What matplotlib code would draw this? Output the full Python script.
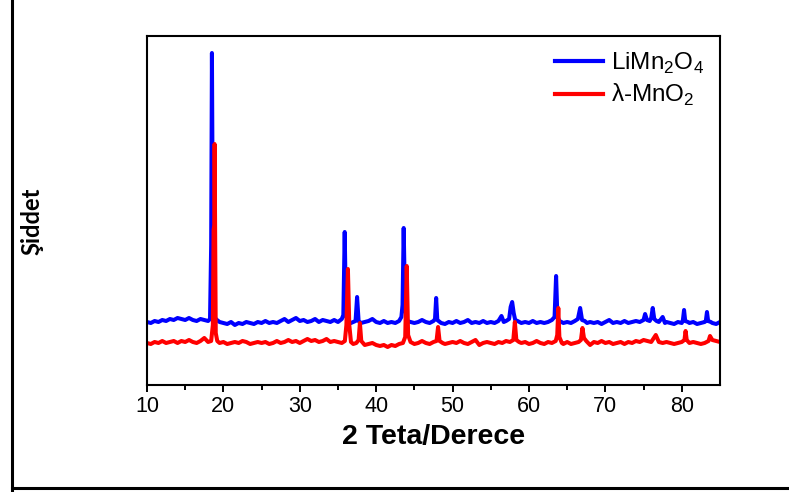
import numpy as np
import matplotlib
matplotlib.use("Agg")
from matplotlib import pyplot as plt
from matplotlib.lines import Line2D

# LiMn2O4 (blue) - 2 teta / siddet (okunan degerler)
blue_2theta = [10.0, 10.5, 11.0, 11.5, 12.0, 12.5, 13.0, 13.5, 14.0, 14.5, 15.0, 15.5, 16.0, 16.5, 17.0, 17.5,
               18.0, 18.25, 18.4, 18.5, 18.62, 18.75, 19.0, 19.5, 20.0, 20.5, 21.0, 21.5, 22.0, 22.5, 23.0, 23.5,
               24.0, 24.5, 25.0, 25.5, 26.0, 26.5, 27.0, 27.5, 28.0, 28.5, 29.0, 29.5, 30.0, 30.5, 31.0, 31.5,
               32.0, 32.5, 33.0, 33.5, 34.0, 34.5, 35.0, 35.5, 35.7, 35.88, 36.05, 36.3, 36.7, 37.0, 37.3, 37.5,
               37.7, 38.0, 38.5, 39.0, 39.5, 40.0, 40.5, 41.0, 41.5, 42.0, 42.5, 43.0, 43.3, 43.45, 43.6, 43.78,
               44.0, 44.5, 45.0, 45.5, 46.0, 46.5, 47.0, 47.5, 47.7, 47.85, 48.0, 48.5, 49.0, 49.5, 50.0, 50.5,
               51.0, 51.5, 52.0, 52.5, 53.0, 53.5, 54.0, 54.5, 55.0, 55.5, 56.0, 56.4, 56.7, 57.0, 57.4, 57.6,
               57.8, 58.0, 58.2, 58.5, 59.0, 59.5, 60.0, 60.5, 61.0, 61.5, 62.0, 62.5, 63.0, 63.35, 63.55, 63.72,
               64.0, 64.5, 65.0, 65.5, 66.0, 66.4, 66.7, 66.95, 67.3, 67.6, 68.0, 68.5, 69.0, 69.5, 70.0, 70.5,
               71.0, 71.5, 72.0, 72.5, 73.0, 73.5, 74.0, 74.5, 75.0, 75.2, 75.45, 75.8, 76.0, 76.2, 76.4, 76.7,
               77.0, 77.5, 77.8, 78.0, 78.5, 79.0, 79.5, 80.0, 80.15, 80.3, 80.45, 80.8, 81.0, 81.5, 82.0, 82.5,
               83.0, 83.15, 83.3, 83.45, 83.8, 84.0, 84.5, 85.0]
blue_int = [63, 62, 64, 63, 65, 64, 66, 65, 67, 66, 65, 67, 65, 64, 66, 65,
            64, 66, 140, 332, 145, 70, 66, 63, 62, 61, 63, 60, 62, 61, 63, 62,
            61, 63, 62, 64, 62, 63, 62, 64, 66, 63, 65, 67, 64, 65, 63, 64,
            66, 63, 65, 64, 63, 65, 63, 66, 70, 153, 70, 63, 62, 63, 64, 88,
            64, 62, 63, 64, 66, 63, 62, 64, 62, 63, 62, 64, 68, 80, 157, 80,
            64, 63, 62, 63, 65, 63, 62, 64, 66, 87, 65, 62, 61, 63, 62, 64,
            62, 63, 65, 62, 63, 62, 64, 62, 63, 62, 64, 69, 63, 64, 66, 78,
            83, 72, 65, 64, 62, 63, 62, 64, 62, 63, 62, 63, 65, 68, 109, 68,
            64, 62, 63, 62, 64, 66, 77, 65, 64, 62, 63, 62, 63, 61, 63, 65,
            62, 63, 62, 64, 62, 63, 64, 63, 65, 71, 65, 64, 67, 77, 66, 64,
            63, 68, 62, 63, 62, 61, 63, 62, 65, 75, 64, 63, 62, 63, 61, 62,
            63, 64, 73, 64, 63, 62, 61, 63]

# lambda-MnO2 (red)
red_2theta = [10.0, 10.5, 11.0, 11.5, 12.0, 12.5, 13.0, 13.5, 14.0, 14.5, 15.0, 15.5, 16.0, 16.5, 17.0, 17.5,
              18.0, 18.4, 18.62, 18.72, 18.8, 18.85, 18.92, 19.0, 19.2, 19.5, 20.0, 20.5, 21.0, 21.5, 22.0, 22.5,
              23.0, 23.5, 24.0, 24.5, 25.0, 25.5, 26.0, 26.5, 27.0, 27.5, 28.0, 28.5, 29.0, 29.5, 30.0, 30.5,
              31.0, 31.5, 32.0, 32.5, 33.0, 33.5, 34.0, 34.5, 35.0, 35.5, 35.9, 36.1, 36.3, 36.48, 36.7, 37.0,
              37.4, 37.7, 37.87, 38.05, 38.5, 39.0, 39.5, 40.0, 40.5, 41.0, 41.5, 42.0, 42.5, 43.0, 43.5, 43.8,
              44.0, 44.18, 44.5, 45.0, 45.5, 46.0, 46.5, 47.0, 47.5, 47.9, 48.1, 48.3, 48.7, 49.0, 49.5, 50.0,
              50.5, 51.0, 51.5, 52.0, 52.5, 53.0, 53.5, 54.0, 54.5, 55.0, 55.5, 56.0, 56.5, 57.0, 57.5, 57.95,
              58.15, 58.35, 58.7, 59.0, 59.5, 60.0, 60.5, 61.0, 61.5, 62.0, 62.5, 63.0, 63.5, 63.7, 63.84, 63.98,
              64.3, 64.5, 65.0, 65.5, 66.0, 66.5, 66.8, 67.0, 67.2, 67.5, 68.0, 68.5, 69.0, 69.5, 70.0, 70.5,
              71.0, 71.5, 72.0, 72.5, 73.0, 73.5, 74.0, 74.5, 75.0, 75.5, 76.0, 76.6, 77.0, 77.5, 78.0, 78.5,
              79.0, 79.5, 80.0, 80.35, 80.5, 80.65, 81.0, 81.5, 82.0, 82.5, 83.0, 83.5, 83.7, 84.0, 84.5, 85.0]
red_int = [42, 41, 43, 42, 44, 42, 43, 44, 42, 44, 43, 45, 43, 42, 44, 47,
           43, 44, 60, 155, 160, 241, 160, 52, 44, 42, 43, 41, 42, 43, 42, 44,
           43, 41, 42, 43, 42, 43, 41, 42, 44, 42, 43, 45, 43, 44, 42, 44,
           46, 44, 45, 43, 44, 46, 43, 44, 43, 42, 44, 60, 116, 60, 43, 41,
           42, 45, 62, 44, 40, 41, 42, 40, 39, 40, 38, 40, 39, 41, 42, 48,
           119, 50, 43, 41, 42, 44, 42, 41, 43, 44, 58, 44, 42, 41, 42, 43,
           42, 44, 42, 41, 43, 45, 40, 42, 43, 42, 41, 43, 42, 44, 43, 45,
           63, 45, 43, 42, 43, 41, 42, 44, 42, 41, 43, 42, 44, 50, 77, 48,
           42, 41, 43, 41, 42, 43, 45, 57, 47, 44, 40, 43, 42, 44, 42, 43,
           41, 42, 43, 41, 43, 42, 44, 43, 45, 44, 43, 50, 43, 42, 43, 42,
           41, 42, 43, 45, 54, 45, 42, 43, 42, 41, 42, 44, 49, 45, 44, 43]

x_ticks = [10, 20, 30, 40, 50, 60, 70, 80]
labels = ["LiMn$_2$O$_4$", "λ-MnO$_2$"]

plt.rcParams['font.family'] = ['Liberation Sans', 'DejaVu Sans']
plt.rcParams['mathtext.fontset'] = 'custom'
plt.rcParams['mathtext.rm'] = 'Liberation Sans'

fig = plt.figure(figsize=(7.89, 4.92), dpi=100)
ax = fig.add_axes([0.1863, 0.2175, 0.7262, 0.7093])

ax.plot(blue_2theta, blue_int, color='#0000ff', lw=2.9, solid_joinstyle='round')
ax.plot(red_2theta, red_int, color='#ff0000', lw=2.9, solid_joinstyle='round')

ax.set_xlim(10, 85)
ax.set_ylim(0, 349)
ax.set_xticks(x_ticks)
ax.set_xticks(np.arange(15, 85, 10), minor=True)
ax.set_yticks([])
ax.tick_params(axis='x', which='major', direction='out', length=5, width=1.4, labelsize=15.5, pad=3)
ax.tick_params(axis='x', which='minor', direction='out', length=3.5, width=1.4)
for s in ax.spines.values():
    s.set_linewidth(1.5)

ax.set_xlabel("2 Teta/Derece", fontsize=20.5, fontweight='bold', labelpad=5)
fig.text(0.040, 0.551, "Şiddet", rotation=90, fontsize=17, fontweight='bold',
         family=['Lato', 'DejaVu Sans'], ha='center', va='center')

handles = [Line2D([], [], color='#0000ff', lw=3), Line2D([], [], color='#ff0000', lw=3)]
ax.legend(handles, labels, loc='upper right', bbox_to_anchor=(1.01, 1.02), frameon=False,
          fontsize=17.5, handlelength=2.0, handletextpad=0.3, labelspacing=0.25)

# cerceve
fig.add_artist(Line2D([12 / 789, 12 / 789], [0, 1], color='black', lw=2.2, transform=fig.transFigure))
fig.add_artist(Line2D([12 / 789, 1], [1 - 488 / 492, 1 - 488 / 492], color='black', lw=2.2, transform=fig.transFigure))

fig.savefig("out.png", dpi=100)
